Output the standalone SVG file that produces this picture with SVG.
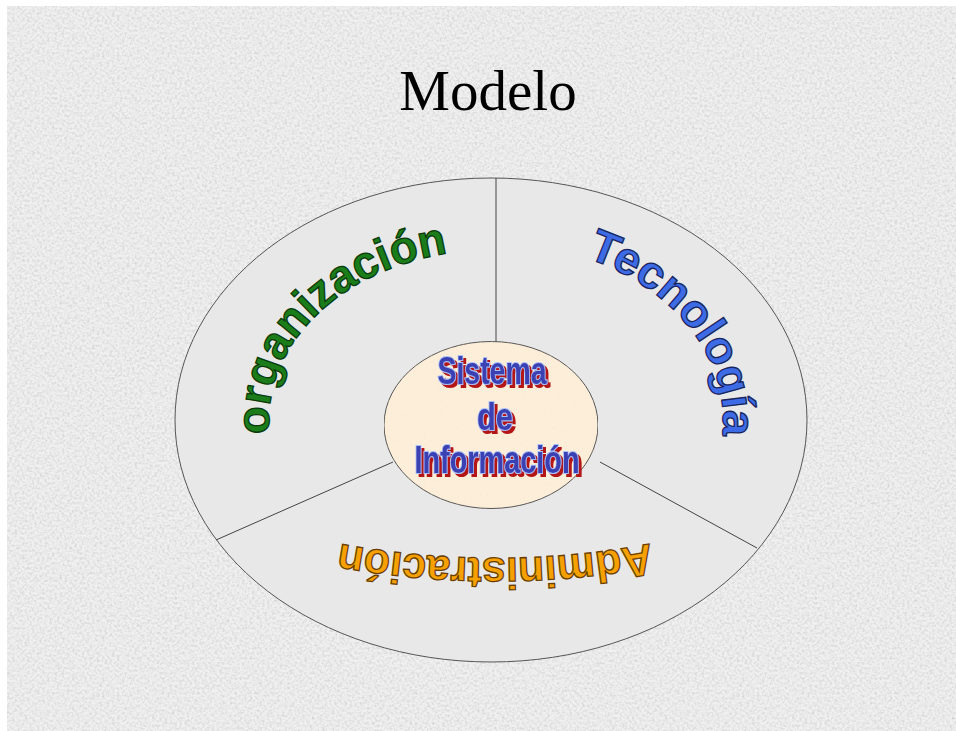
<svg xmlns="http://www.w3.org/2000/svg" xmlns:xlink="http://www.w3.org/1999/xlink" width="956" height="731" viewBox="0 0 956 731">
  <defs>
    <filter id="tex" x="0" y="0" width="100%" height="100%" filterUnits="objectBoundingBox">
      <feTurbulence type="fractalNoise" baseFrequency="0.4" numOctaves="3" seed="7" result="n"/>
      <feColorMatrix in="n" type="matrix" values="0 0 0 0 0.6  0 0 0 0 0.6  0 0 0 0 0.6  1.6 0 0 0 -0.62" result="g"/>
      <feComposite in="g" in2="SourceAlpha" operator="in" result="gc"/>
      <feMerge><feMergeNode in="SourceGraphic"/><feMergeNode in="gc"/></feMerge>
    </filter>
    <filter id="tex2" x="0" y="0" width="100%" height="100%" filterUnits="objectBoundingBox">
      <feTurbulence type="fractalNoise" baseFrequency="0.3" numOctaves="2" seed="4" result="n"/>
      <feColorMatrix in="n" type="matrix" values="0 0 0 0 0.9  0 0 0 0 0.75  0 0 0 0 0.55  0.7 0 0 0 -0.38" result="g"/>
      <feComposite in="g" in2="SourceAlpha" operator="in" result="gc"/>
      <feMerge><feMergeNode in="SourceGraphic"/><feMergeNode in="gc"/></feMerge>
    </filter>
    <filter id="redsh" x="-10%" y="-20%" width="130%" height="150%">
      <feOffset in="SourceAlpha" dx="3" dy="3" result="o"/>
      <feFlood flood-color="#b41616"/>
      <feComposite in2="o" operator="in" result="s"/>
      <feMerge><feMergeNode in="s"/><feMergeNode in="SourceGraphic"/></feMerge>
    </filter>
    <path id="arcOrg" d="M 311.4,519.9 A 222 170 0 0 1 544.7,255.1"/>
    <path id="arcTec" d="M 462.7,243.3 A 232 178 0 0 1 660.7,541.4"/>
    <path id="arcAdm" d="M 700,532.9 A 850 850 0 0 1 290,532.9"/>
    <style>
      .title { font-family: "Liberation Serif", "Times New Roman", serif; font-size: 57px; fill: #000; }
      .arc { font-family: "Liberation Sans", Arial, sans-serif; font-weight: bold; stroke-width: 1.3; }
      .org { fill: #1a7d1a; stroke: #0b3a0b; font-size: 46px; }
      .tec { fill: #3d6be6; stroke: #18245e; font-size: 46px; }
      .adm { fill: #f7a100; stroke: #6a3e00; font-size: 44px; }
      .si { font-family: "Liberation Sans", Arial, sans-serif; font-weight: bold; font-size: 38px; text-anchor: middle; fill: #3a3fb2; stroke: #a8c0f8; stroke-width: 2; paint-order: stroke; }
      .div { stroke: #444; stroke-width: 1; fill: none; }
    </style>
  </defs>

  <rect x="0" y="0" width="956" height="731" fill="#ffffff"/>
  <rect id="background" x="7" y="6" width="949" height="725" fill="#f0f0f0" filter="url(#tex)"/>

  <g id="title">
    <text class="title" x="488" y="110" text-anchor="middle">Modelo</text>
  </g>

  <g id="outer">
    <ellipse cx="491" cy="420" rx="316" ry="242" fill="#e8e8e8" stroke="#555" stroke-width="1"/>
  </g>

  <g id="connectors">
    <line class="div" x1="496" y1="178" x2="496" y2="342"/>
    <line class="div" x1="393" y1="462" x2="216" y2="540"/>
    <line class="div" x1="600" y1="462" x2="757" y2="548"/>
  </g>

  <g id="organizacion">
    <text class="arc org"><textPath xlink:href="#arcOrg" href="#arcOrg" startOffset="50%" text-anchor="middle" textLength="280" lengthAdjust="spacingAndGlyphs">organización</textPath></text>
  </g>

  <g id="tecnologia">
    <text class="arc tec"><textPath xlink:href="#arcTec" href="#arcTec" startOffset="50%" text-anchor="middle" textLength="242" lengthAdjust="spacingAndGlyphs">Tecnología</textPath></text>
  </g>

  <g id="administracion">
    <text class="arc adm"><textPath xlink:href="#arcAdm" href="#arcAdm" startOffset="50%" text-anchor="middle" textLength="312" lengthAdjust="spacingAndGlyphs">Administración</textPath></text>
  </g>

  <g id="sistema">
    <ellipse cx="491" cy="425" rx="107" ry="83.5" fill="#fdeeda" stroke="#555" stroke-width="1" filter="url(#tex2)"/>
    <g filter="url(#redsh)">
      <text class="si" x="492" y="384" textLength="109" lengthAdjust="spacingAndGlyphs">Sistema</text>
      <text class="si" x="495" y="430" textLength="36" lengthAdjust="spacingAndGlyphs">de</text>
      <text class="si" x="497" y="473" textLength="165" lengthAdjust="spacingAndGlyphs">Información</text>
    </g>
  </g>
</svg>
